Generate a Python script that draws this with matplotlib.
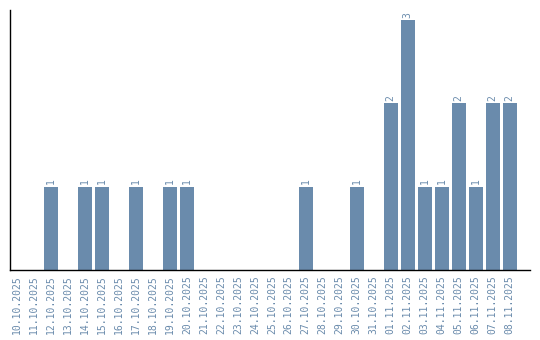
import matplotlib
matplotlib.use("Agg")
import matplotlib.pyplot as plt

dates = ["10.10.2025", "11.10.2025", "12.10.2025", "13.10.2025", "14.10.2025",
         "15.10.2025", "16.10.2025", "17.10.2025", "18.10.2025", "19.10.2025",
         "20.10.2025", "21.10.2025", "22.10.2025", "23.10.2025", "24.10.2025",
         "25.10.2025", "26.10.2025", "27.10.2025", "28.10.2025", "29.10.2025",
         "30.10.2025", "31.10.2025", "01.11.2025", "02.11.2025", "03.11.2025",
         "04.11.2025", "05.11.2025", "06.11.2025", "07.11.2025", "08.11.2025"]
counts = [0, 0, 1, 0, 1, 1, 0, 1, 0, 1,
          1, 0, 0, 0, 0, 0, 0, 1, 0, 0,
          1, 0, 2, 3, 1, 1, 2, 1, 2, 2]

bar_color = "#6a8bac"
text_color = "#6a8bac"

fig = plt.figure(figsize=(5.4, 3.4), dpi=100)
ax = fig.add_axes([0.0185, 0.206, 0.9625, 0.764])

x = range(len(dates))
bars = ax.bar(x, counts, width=0.82, color=bar_color)

for xi, c in zip(x, counts):
    if c > 0:
        ax.text(xi, c + 0.03, str(c), rotation=90, ha="center", va="bottom",
                fontsize=7, family="DejaVu Sans Mono", color=text_color)

ax.set_xlim(-0.41, 30.18)
ax.set_ylim(0, 3.12)
ax.set_xticks(list(x))
ax.set_xticklabels(dates, rotation=90, fontsize=7, family="DejaVu Sans Mono",
                   color=text_color)
ax.set_yticks([])
ax.tick_params(axis="x", length=0, pad=4)
ax.spines["top"].set_visible(False)
ax.spines["right"].set_visible(False)
ax.spines["left"].set_linewidth(1.0)
ax.spines["bottom"].set_linewidth(1.0)

fig.savefig("out.png", dpi=100)
